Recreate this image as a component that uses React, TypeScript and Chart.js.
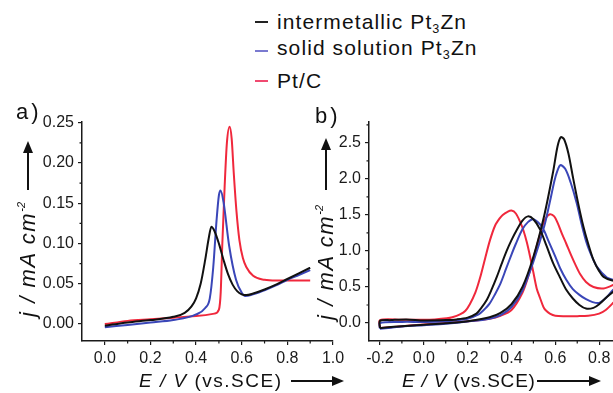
import React, { useEffect, useRef } from "react";
import { Chart, registerables } from "chart.js";

Chart.register(...registerables);

// ---------------- data ----------------
const seriesNames = ["intermetallic Pt3Zn", "solid solution Pt3Zn", "Pt/C"];
const seriesColors = ["#111111", "#3a46b8", "#f0283c"];
const legendColors = ["#222222", "#7a7ad0", "#f04a70"];

// panel a) linear sweep
const aBlackX = [0, 0.1, 0.2, 0.3, 0.35, 0.38, 0.4, 0.42, 0.44, 0.455, 0.467, 0.48, 0.5, 0.52, 0.54, 0.56, 0.58, 0.6, 0.62, 0.65, 0.7, 0.75, 0.8, 0.85, 0.9];
const aBlackY = [-0.002, 0.002, 0.005, 0.009, 0.014, 0.022, 0.032, 0.05, 0.08, 0.106, 0.121, 0.116, 0.1, 0.08, 0.062, 0.049, 0.041, 0.037, 0.036, 0.038, 0.043, 0.049, 0.056, 0.063, 0.07];

const aBlueX = [0, 0.1, 0.2, 0.3, 0.4, 0.44, 0.46, 0.475, 0.49, 0.5, 0.507, 0.52, 0.545, 0.575, 0.6, 0.615, 0.64, 0.7, 0.75, 0.8, 0.85, 0.9];
const aBlueY = [-0.004, -0.001, 0.002, 0.005, 0.012, 0.02, 0.032, 0.07, 0.13, 0.16, 0.166, 0.152, 0.097, 0.055, 0.039, 0.035, 0.036, 0.042, 0.048, 0.055, 0.061, 0.067];

const aRedX = [0, 0.1, 0.2, 0.3, 0.4, 0.48, 0.5, 0.508, 0.515, 0.525, 0.535, 0.547, 0.556, 0.565, 0.577, 0.59, 0.605, 0.62, 0.65, 0.7, 0.75, 0.8, 0.85, 0.9];
const aRedY = [0.0, 0.004, 0.006, 0.008, 0.01, 0.013, 0.018, 0.04, 0.1, 0.17, 0.225, 0.245, 0.23, 0.188, 0.14, 0.104, 0.082, 0.071, 0.06, 0.055, 0.054, 0.054, 0.054, 0.054];

// panel b) cyclic voltammograms (forward then reverse scan)
const bBlackX = [-0.2, -0.15, -0.1, 0.0, 0.1, 0.2, 0.3, 0.35, 0.4, 0.45, 0.5, 0.55, 0.59, 0.61, 0.625, 0.64, 0.66, 0.68, 0.705, 0.728, 0.75, 0.774, 0.8, 0.82, 0.86, 0.9, 0.95,
  0.92, 0.88, 0.835, 0.8, 0.774, 0.74, 0.71, 0.68, 0.65, 0.62, 0.59, 0.56, 0.53, 0.5, 0.475, 0.45, 0.424, 0.4, 0.378, 0.355, 0.333, 0.31, 0.287, 0.26, 0.24, 0.2, 0.15, 0.1, 0.0, -0.08, -0.15, -0.2, -0.2];
const bBlackY = [-0.07, -0.055, -0.045, -0.025, -0.005, 0.025, 0.08, 0.14, 0.26, 0.5, 0.92, 1.5, 2.1, 2.45, 2.58, 2.55, 2.35, 2.03, 1.65, 1.34, 1.1, 0.875, 0.72, 0.64, 0.59, 0.58, 0.6,
  0.55, 0.47, 0.36, 0.26, 0.21, 0.2, 0.25, 0.34, 0.46, 0.64, 0.83, 1.07, 1.3, 1.44, 1.48, 1.42, 1.29, 1.15, 1.0, 0.82, 0.64, 0.47, 0.32, 0.2, 0.13, 0.075, 0.05, 0.04, 0.035, 0.05, 0.04, 0.03, -0.07];

const bBlueX = [-0.2, -0.15, -0.1, 0.0, 0.1, 0.2, 0.3, 0.35, 0.4, 0.45, 0.5, 0.55, 0.58, 0.6, 0.622, 0.645, 0.67, 0.698, 0.72, 0.744, 0.77, 0.79, 0.835, 0.864, 0.9, 0.95,
  0.92, 0.89, 0.864, 0.835, 0.8, 0.77, 0.74, 0.71, 0.68, 0.65, 0.622, 0.6, 0.57, 0.54, 0.5, 0.475, 0.45, 0.42, 0.4, 0.375, 0.35, 0.325, 0.3, 0.27, 0.25, 0.2, 0.1, 0.0, -0.1, -0.2, -0.2];
const bBlueY = [-0.08, -0.065, -0.05, -0.03, -0.01, 0.02, 0.06, 0.11, 0.22, 0.45, 0.85, 1.35, 1.75, 2.02, 2.19, 2.14, 1.95, 1.66, 1.37, 1.1, 0.9, 0.78, 0.63, 0.6, 0.58, 0.6,
  0.56, 0.5, 0.46, 0.36, 0.28, 0.29, 0.33, 0.39, 0.47, 0.6, 0.76, 0.92, 1.13, 1.33, 1.44, 1.4, 1.3, 1.1, 0.95, 0.75, 0.55, 0.4, 0.27, 0.17, 0.12, 0.06, 0.025, 0.015, 0.015, 0.0, -0.08];

const bRedX = [-0.2, -0.1, 0.0, 0.1, 0.2, 0.3, 0.35, 0.4, 0.45, 0.48, 0.5, 0.52, 0.54, 0.555, 0.575, 0.595, 0.612, 0.63, 0.65, 0.668, 0.69, 0.713, 0.74, 0.774, 0.82, 0.864, 0.9, 0.95,
  0.93, 0.9, 0.864, 0.83, 0.8, 0.75, 0.7, 0.65, 0.6, 0.575, 0.555, 0.546, 0.53, 0.515, 0.5, 0.485, 0.47, 0.455, 0.44, 0.42, 0.4, 0.38, 0.36, 0.348, 0.325, 0.302, 0.28, 0.256, 0.235, 0.21, 0.19, 0.165, 0.13, 0.105, 0.05, 0.0, -0.1, -0.2, -0.2];
const bRedY = [-0.07, -0.045, -0.02, 0.0, 0.025, 0.06, 0.1, 0.18, 0.42, 0.68, 0.9, 1.12, 1.33, 1.45, 1.51, 1.48, 1.38, 1.24, 1.1, 0.97, 0.82, 0.68, 0.57, 0.5, 0.48, 0.53, 0.6, 0.68,
  0.55, 0.4, 0.28, 0.18, 0.13, 0.1, 0.095, 0.095, 0.1, 0.13, 0.18, 0.22, 0.35, 0.48, 0.7, 0.92, 1.12, 1.28, 1.4, 1.52, 1.56, 1.54, 1.5, 1.46, 1.35, 1.15, 0.9, 0.62, 0.42, 0.26, 0.17, 0.12, 0.08, 0.065, 0.05, 0.045, 0.045, 0.04, -0.07];

// ticks
const aXTicks = [0, 0.2, 0.4, 0.6, 0.8, 1.0];
const aXMinor = [0.1, 0.3, 0.5, 0.7, 0.9];
const aYTicks = [0, 0.05, 0.1, 0.15, 0.2, 0.25];
const aYMinor = [0.025, 0.075, 0.125, 0.175, 0.225];
const bXTicks = [-0.2, 0, 0.2, 0.4, 0.6, 0.8, 1.0];
const bXMinor = [-0.1, 0.1, 0.3, 0.5, 0.7, 0.9];
const bYTicks = [0, 0.5, 1.0, 1.5, 2.0, 2.5];
const bYMinor = [0.25, 0.75, 1.25, 1.75, 2.25, 2.75];

// ---------------- styling ----------------
const FONT = '"Liberation Sans", Arial, Helvetica, sans-serif';
const AXIS = "#1a1a1a";
const TEXT = "#111111";

const minorTicksPlugin = {
  id: "minorTicks",
  afterDraw(chart: any, _args: any, opts: any) {
    const { ctx, chartArea } = chart;
    const xs = chart.scales.x;
    const ys = chart.scales.y;
    ctx.save();
    ctx.strokeStyle = AXIS;
    ctx.lineWidth = 1.2;
    ctx.beginPath();
    for (const v of opts.x || []) {
      const px = xs.getPixelForValue(v);
      ctx.moveTo(px, chartArea.bottom);
      ctx.lineTo(px, chartArea.bottom + 2.5);
    }
    for (const v of opts.y || []) {
      const py = ys.getPixelForValue(v);
      ctx.moveTo(chartArea.left, py);
      ctx.lineTo(chartArea.left - 2.5, py);
    }
    ctx.stroke();
    ctx.restore();
  },
};

type PanelCfg = {
  series: { x: number[]; y: number[] }[];
  loop: boolean;
  xMin: number; xMax: number; yMin: number; yMax: number;
  xTicks: number[]; xMinor: number[]; yTicks: number[]; yMinor: number[];
  xDec: number; yDec: number;
  yWidth: number;
  padding: { left: number; right: number; top: number; bottom: number };
  left: number; top: number; width: number; height: number;
};

function Panel({ cfg }: { cfg: PanelCfg }) {
  const ref = useRef<HTMLCanvasElement | null>(null);
  useEffect(() => {
    if (!ref.current) return;
    const datasets = cfg.series.map((s, i) => ({
      label: seriesNames[i],
      data: s.x.map((x, k) => ({ x, y: s.y[k] })),
      borderColor: seriesColors[i],
      backgroundColor: seriesColors[i],
      borderWidth: 2,
      pointRadius: 0,
      fill: false,
      tension: cfg.loop ? 0.3 : 0.4,
      cubicInterpolationMode: cfg.loop ? "default" : "monotone",
    }));
    const tickFont = { family: FONT, size: 16 };
    const chart = new Chart(ref.current, {
      type: "line",
      data: { datasets } as any,
      options: {
        responsive: false,
        maintainAspectRatio: false,
        animation: false,
        layout: { padding: cfg.padding },
        plugins: {
          legend: { display: false },
          tooltip: { enabled: false },
          minorTicks: { x: cfg.xMinor, y: cfg.yMinor },
        } as any,
        scales: {
          x: {
            type: "linear",
            min: cfg.xMin,
            max: cfg.xMax,
            afterBuildTicks: (s: any) => { s.ticks = cfg.xTicks.map((v) => ({ value: v })); },
            afterFit: (s: any) => { s.height = 30; },
            ticks: {
              font: tickFont, color: AXIS, padding: 4, maxRotation: 0, autoSkip: false,
              callback: (v: any) => Number(v).toFixed(cfg.xDec),
            },
            grid: { drawOnChartArea: false, drawTicks: true, tickLength: 4, color: AXIS, lineWidth: 1.2 },
            border: { display: true, color: AXIS, width: 1.5 },
          },
          y: {
            type: "linear",
            min: cfg.yMin,
            max: cfg.yMax,
            afterBuildTicks: (s: any) => { s.ticks = cfg.yTicks.map((v) => ({ value: v })); },
            afterFit: (s: any) => { s.width = cfg.yWidth; },
            ticks: {
              font: tickFont, color: AXIS, padding: 4, autoSkip: false,
              callback: (v: any) => Number(v).toFixed(cfg.yDec),
            },
            grid: { drawOnChartArea: false, drawTicks: true, tickLength: 4, color: AXIS, lineWidth: 1.2 },
            border: { display: true, color: AXIS, width: 1.5 },
          },
        },
      } as any,
      plugins: [minorTicksPlugin],
    });
    return () => chart.destroy();
  }, [cfg]);
  return (
    <canvas
      ref={ref}
      width={cfg.width}
      height={cfg.height}
      style={{ position: "absolute", left: cfg.left, top: cfg.top, width: cfg.width, height: cfg.height }}
    />
  );
}

const panelA: PanelCfg = {
  series: [{ x: aBlackX, y: aBlackY }, { x: aBlueX, y: aBlueY }, { x: aRedX, y: aRedY }],
  loop: false,
  xMin: -0.1, xMax: 1.0, yMin: -0.021, yMax: 0.251,
  xTicks: aXTicks, xMinor: aXMinor, yTicks: aYTicks, yMinor: aYMinor,
  xDec: 1, yDec: 2,
  yWidth: 50,
  padding: { left: 32, right: 27, top: 22, bottom: 4 },
  left: 0, top: 100, width: 360, height: 275,
};

const panelB: PanelCfg = {
  series: [{ x: bBlackX, y: bBlackY }, { x: bBlueX, y: bBlueY }, { x: bRedX, y: bRedY }],
  loop: true,
  xMin: -0.25, xMax: 1.0, yMin: -0.25, yMax: 2.79,
  xTicks: bXTicks, xMinor: bXMinor, yTicks: bYTicks, yMinor: bYMinor,
  xDec: 1, yDec: 1,
  yWidth: 45,
  padding: { left: 24, right: 20, top: 22, bottom: 4 },
  left: 300, top: 100, width: 363, height: 275,
};

function Arrow({ length, color = TEXT }: { length: number; color?: string }) {
  return (
    <span style={{ display: "inline-flex", alignItems: "center", width: length, flex: "none" }}>
      <span style={{ flex: 1, height: 2, background: color }} />
      <span
        style={{
          width: 0, height: 0,
          borderLeft: `12px solid ${color}`,
          borderTop: "5px solid transparent",
          borderBottom: "5px solid transparent",
        }}
      />
    </span>
  );
}

function withSub(name: string) {
  const parts = name.split("Pt3Zn");
  if (parts.length === 1) return name;
  return (
    <>
      {parts[0]}Pt<sub style={{ fontSize: "0.6em", verticalAlign: "-0.3em", lineHeight: 0 }}>3</sub>Zn
    </>
  );
}

function XTitle({ left, top, spacing, gap, arrow }: { left: number; top: number; spacing: number; gap: number; arrow: number }) {
  return (
    <div style={{ position: "absolute", left, top, height: 24, display: "flex", alignItems: "center", whiteSpace: "nowrap" }}>
      <span style={{ fontSize: 19, lineHeight: "24px", letterSpacing: spacing }}>
        <i>E</i> <i>/</i> <i>V</i> (vs.SCE)
      </span>
      <span style={{ width: gap, flex: "none" }} />
      <Arrow length={arrow} />
    </div>
  );
}

function YTitle({ cx, cy, width, arrow }: { cx: number; cy: number; width: number; arrow: number }) {
  const h = 28;
  return (
    <div
      style={{
        position: "absolute", left: cx - width / 2, top: cy - h / 2, width, height: h,
        transform: "rotate(-90deg)", display: "flex", alignItems: "center", whiteSpace: "nowrap",
      }}
    >
      <span style={{ fontSize: 22, lineHeight: "28px", fontStyle: "italic", letterSpacing: 1.6 }}>
        j / mA cm<sup style={{ fontSize: "0.5em", verticalAlign: "0.9em", lineHeight: 0, letterSpacing: 0 }}>-2</sup>
      </span>
      <span style={{ flex: 1 }} />
      <Arrow length={arrow} />
    </div>
  );
}

const legendTops = [9, 35, 68];
const legendLineTops = [21, 50, 80];

export default function App() {
  return (
    <div
      style={{
        position: "fixed", left: 0, top: 0, width: 613, height: 393, overflow: "hidden",
        background: "#ffffff", fontFamily: FONT, color: TEXT,
      }}
    >
      <Panel cfg={panelA} />
      <Panel cfg={panelB} />

      {seriesNames.map((n, i) => (
        <React.Fragment key={n}>
          <div style={{ position: "absolute", left: 255, top: legendLineTops[i], width: 13, height: 2, background: legendColors[i] }} />
          <div style={{ position: "absolute", left: 277, top: legendTops[i], height: 26, lineHeight: "26px", fontSize: 21, letterSpacing: 1.1, whiteSpace: "nowrap" }}>
            {withSub(n)}
          </div>
        </React.Fragment>
      ))}

      <div style={{ position: "absolute", left: 16, top: 98, fontSize: 22, lineHeight: "28px", letterSpacing: 3 }}>a)</div>
      <div style={{ position: "absolute", left: 315, top: 102, fontSize: 22, lineHeight: "28px", letterSpacing: 3 }}>b)</div>

      <YTitle cx={28} cy={229} width={176} arrow={49} />
      <YTitle cx={326} cy={229} width={182} arrow={52} />

      <XTitle left={139} top={369} spacing={1.5} gap={8} arrow={53} />
      <XTitle left={402} top={369} spacing={0.8} gap={1} arrow={64} />
    </div>
  );
}
